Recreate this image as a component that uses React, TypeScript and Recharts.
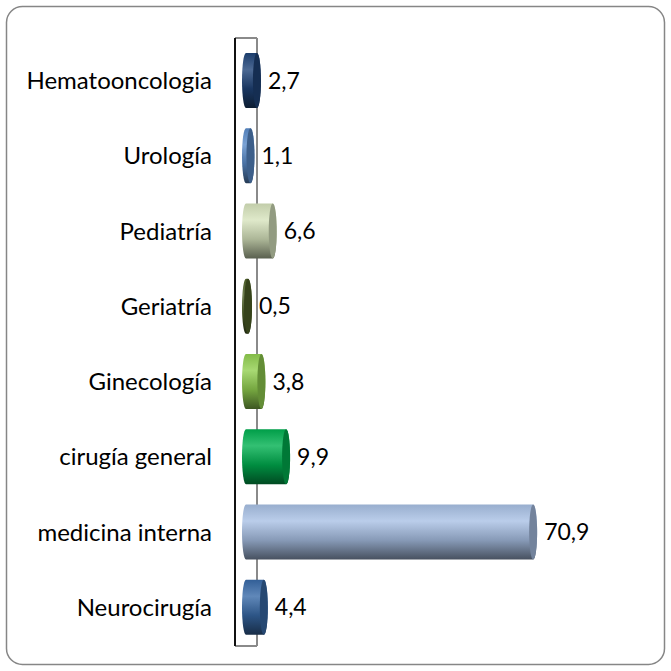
import React from 'react'
import { BarChart, Bar, XAxis, YAxis, LabelList } from 'recharts'

// categorias de arriba hacia abajo
const servicios = [
  'Hematooncologia', 'Urología', 'Pediatría', 'Geriatría',
  'Ginecología', 'cirugía general', 'medicina interna', 'Neurocirugía',
]
const porcentajes = [2.7, 1.1, 6.6, 0.5, 3.8, 9.9, 70.9, 4.4]
const colores = ['#1F4478', '#5A8CCB', '#D7E4BD', '#4F6228', '#92D050', '#00B050', '#A9C1E5', '#386AA8']

const datos = servicios.map((s, i) => ({ servicio: s, valor: porcentajes[i], color: colores[i] }))

const W = 671
const H = 671
const MARGEN = { top: 43, right: 101, bottom: 26, left: 0 }
const ANCHO_EJE = 246
const RX = 4
const FUENTE = 'Lato, Carlito, Calibri, sans-serif'

function mezcla(hex: string, otro: string, t: number) {
  const a = parseInt(hex.slice(1), 16)
  const b = parseInt(otro.slice(1), 16)
  const c = [16, 8, 0].map(s => {
    const va = (a >> s) & 255
    const vb = (b >> s) & 255
    return Math.round(va + (vb - va) * t)
  })
  return `rgb(${c[0]},${c[1]},${c[2]})`
}

function Cilindro(props: any) {
  const { x, y, width, height, index, payload } = props
  const base = payload.color
  const id = `grad-${index}`
  const ry = height / 2
  const cy = y + ry
  const x1 = x
  const x2 = x + Math.max(width, 0)
  const cuerpo = `M ${x1} ${y} L ${x2} ${y} A ${RX} ${ry} 0 0 1 ${x2} ${y + height} L ${x1} ${y + height} A ${RX} ${ry} 0 0 1 ${x1} ${y} Z`
  return (
    <g>
      <defs>
        <linearGradient id={id} x1="0" y1="0" x2="0" y2="1">
          <stop offset="0%" stopColor={mezcla(base, '#000000', 0.1)} />
          <stop offset="30%" stopColor={mezcla(base, '#ffffff', 0.2)} />
          <stop offset="65%" stopColor={mezcla(base, '#000000', 0.2)} />
          <stop offset="100%" stopColor={mezcla(base, '#000000', 0.58)} />
        </linearGradient>
      </defs>
      <path d={cuerpo} fill={`url(#${id})`} />
      <ellipse cx={x2} cy={cy} rx={RX} ry={ry} fill={mezcla(base, '#000000', 0.32)} />
    </g>
  )
}

const fmt = (v: any) => String(v).replace('.', ',')

export default function App() {
  const plotIzq = MARGEN.left + ANCHO_EJE
  const arriba = MARGEN.top - 5
  const abajo = H - MARGEN.bottom + 1
  return (
    <div style={{ position: 'absolute', left: 0, top: 0, width: W, height: H, background: '#fff' }}>
      <svg width={W} height={H} style={{ position: 'absolute', left: 0, top: 0 }}>
        <rect x={6.5} y={6.5} width={W - 13} height={H - 13} rx={16} fill="#fff" stroke="#868686" strokeWidth={1.5} />
        <line x1={plotIzq + 11} y1={arriba} x2={plotIzq + 11} y2={abajo} stroke="#8a8a8a" strokeWidth={2} />
        <line x1={plotIzq - 11} y1={arriba} x2={plotIzq + 11} y2={arriba} stroke="#8a8a8a" strokeWidth={2} />
        <line x1={plotIzq - 11} y1={abajo} x2={plotIzq + 11} y2={abajo} stroke="#8a8a8a" strokeWidth={2} />
        <line x1={plotIzq - 11} y1={arriba} x2={plotIzq - 11} y2={abajo} stroke="#111" strokeWidth={2} />
      </svg>
      <div style={{ position: 'absolute', left: 0, top: 0 }}>
        <BarChart width={W} height={H} data={datos} layout="vertical" margin={MARGEN}>
          <XAxis type="number" domain={[0, 80]} hide />
          <YAxis
            type="category"
            dataKey="servicio"
            width={ANCHO_EJE}
            axisLine={false}
            tickLine={false}
            tickSize={0}
            tickMargin={34}
            interval={0}
            tick={{ fontSize: 24, fontFamily: FUENTE, fill: '#000' }}
          />
          <Bar dataKey="valor" barSize={55} shape={Cilindro} isAnimationActive={false}>
            <LabelList
              dataKey="valor"
              position="right"
              offset={11}
              formatter={fmt}
              style={{ fontSize: 23, fontFamily: FUENTE, fill: '#000' }}
            />
          </Bar>
        </BarChart>
      </div>
    </div>
  )
}
